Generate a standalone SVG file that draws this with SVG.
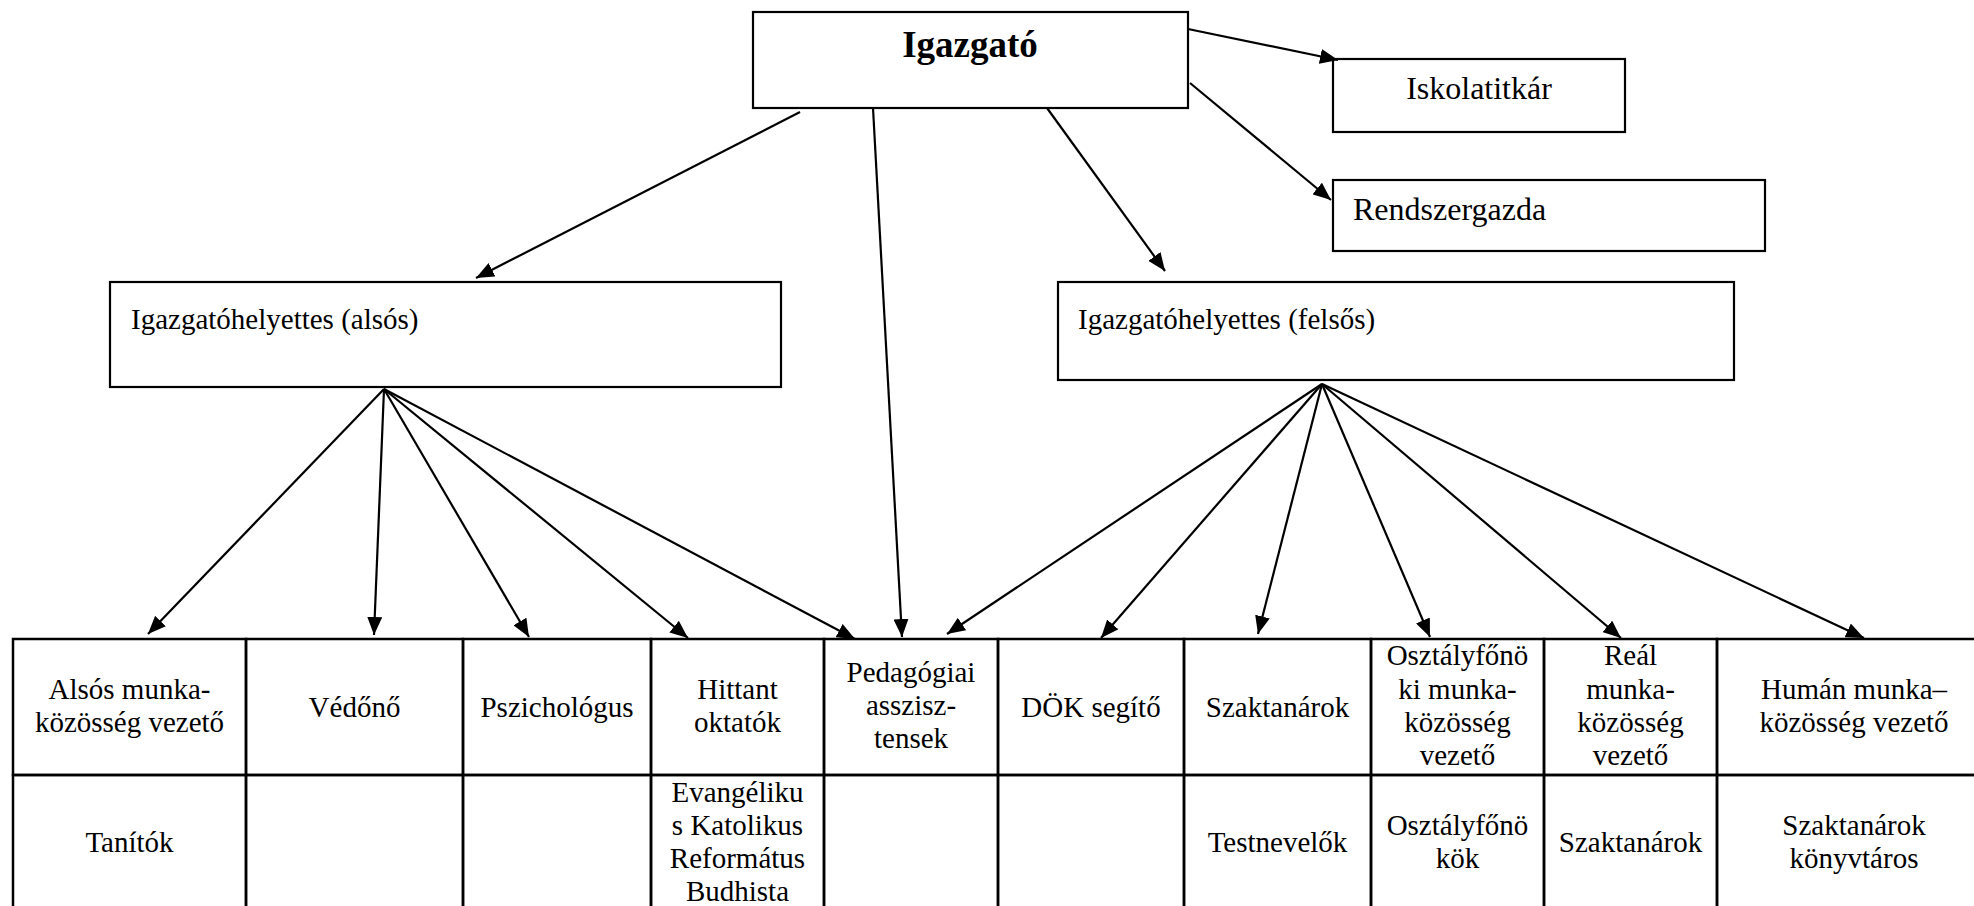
<svg xmlns="http://www.w3.org/2000/svg" width="1974" height="906" viewBox="0 0 1974 906">
<defs>
<marker id="ah" markerUnits="userSpaceOnUse" markerWidth="18" markerHeight="15" refX="18" refY="7.5" orient="auto"><path d="M0,0 L18,7.5 L0,15 Z" fill="#000"/></marker>
</defs>
<style>
.box{fill:#fff;stroke:#000;stroke-width:2.2}
.cell{fill:none;stroke:#000;stroke-width:2.5}
.t{font-family:"Liberation Serif","Times New Roman",serif;fill:#000;font-size:29px}
.c{text-anchor:middle}
.b{font-weight:bold;font-size:37px}
.big{font-size:32px}
#connectors line{stroke:#000;stroke-width:2.2;marker-end:url(#ah)}
</style>
<rect x="0" y="0" width="1974" height="906" fill="#fff"/>

<g id="igazgato"><rect class="box" x="753" y="12" width="435" height="96"/><text class="t c b" x="970" y="57">Igazgató</text></g>
<g id="iskolatitkar"><rect class="box" x="1333" y="59" width="292" height="73"/><text class="t c big" x="1479" y="99">Iskolatitkár</text></g>
<g id="rendszergazda"><rect class="box" x="1333" y="180" width="432" height="71"/><text class="t big" x="1353" y="220">Rendszergazda</text></g>
<g id="igh-alsos"><rect class="box" x="110" y="282" width="671" height="105"/><text class="t" x="131" y="329">Igazgatóhelyettes (alsós)</text></g>
<g id="igh-felsos"><rect class="box" x="1058" y="282" width="676" height="98"/><text class="t" x="1078" y="329">Igazgatóhelyettes (felsős)</text></g>

<g id="col-alsos-mk">
<rect class="cell" x="13" y="639" width="233" height="136"/><rect class="cell" x="13" y="775" width="233" height="136"/>
<text class="t c" x="129.5" y="699">Alsós munka-</text><text class="t c" x="129.5" y="732">közösség vezető</text>
<text class="t c" x="129.5" y="852">Tanítók</text></g>
<g id="col-vedono">
<rect class="cell" x="246" y="639" width="217" height="136"/><rect class="cell" x="246" y="775" width="217" height="136"/>
<text class="t c" x="354.5" y="717">Védőnő</text></g>
<g id="col-pszichologus">
<rect class="cell" x="463" y="639" width="188" height="136"/><rect class="cell" x="463" y="775" width="188" height="136"/>
<text class="t c" x="557" y="717">Pszichológus</text></g>
<g id="col-hittant">
<rect class="cell" x="651" y="639" width="173" height="136"/><rect class="cell" x="651" y="775" width="173" height="136"/>
<text class="t c" x="737.5" y="699">Hittant</text><text class="t c" x="737.5" y="732">oktatók</text>
<text class="t c" x="737.5" y="802">Evangéliku</text><text class="t c" x="737.5" y="835">s Katolikus</text><text class="t c" x="737.5" y="868">Református</text><text class="t c" x="737.5" y="901">Budhista</text></g>
<g id="col-pedagogiai">
<rect class="cell" x="824" y="639" width="174" height="136"/><rect class="cell" x="824" y="775" width="174" height="136"/>
<text class="t c" x="911" y="682">Pedagógiai</text><text class="t c" x="911" y="715">asszisz-</text><text class="t c" x="911" y="748">tensek</text></g>
<g id="col-dok">
<rect class="cell" x="998" y="639" width="186" height="136"/><rect class="cell" x="998" y="775" width="186" height="136"/>
<text class="t c" x="1091" y="717">DÖK segítő</text></g>
<g id="col-szaktanarok">
<rect class="cell" x="1184" y="639" width="187" height="136"/><rect class="cell" x="1184" y="775" width="187" height="136"/>
<text class="t c" x="1277.5" y="717">Szaktanárok</text>
<text class="t c" x="1277.5" y="852">Testnevelők</text></g>
<g id="col-osztalyfonoki">
<rect class="cell" x="1371" y="639" width="173" height="136"/><rect class="cell" x="1371" y="775" width="173" height="136"/>
<text class="t c" x="1457.5" y="665">Osztályfőnö</text><text class="t c" x="1457.5" y="699">ki munka-</text><text class="t c" x="1457.5" y="732">közösség</text><text class="t c" x="1457.5" y="765">vezető</text>
<text class="t c" x="1457.5" y="835">Osztályfőnö</text><text class="t c" x="1457.5" y="868">kök</text></g>
<g id="col-real">
<rect class="cell" x="1544" y="639" width="173" height="136"/><rect class="cell" x="1544" y="775" width="173" height="136"/>
<text class="t c" x="1630.5" y="665">Reál</text><text class="t c" x="1630.5" y="699">munka-</text><text class="t c" x="1630.5" y="732">közösség</text><text class="t c" x="1630.5" y="765">vezető</text>
<text class="t c" x="1630.5" y="852">Szaktanárok</text></g>
<g id="col-human">
<rect class="cell" x="1717" y="639" width="274" height="136"/><rect class="cell" x="1717" y="775" width="274" height="136"/>
<text class="t c" x="1854" y="699">Humán munka–</text><text class="t c" x="1854" y="732">közösség vezető</text>
<text class="t c" x="1854" y="835">Szaktanárok</text><text class="t c" x="1854" y="868">könyvtáros</text></g>

<g id="connectors">
<line x1="1188" y1="29" x2="1338" y2="60"/>
<line x1="1190" y1="83" x2="1331" y2="200"/>
<line x1="1047" y1="108" x2="1165" y2="271"/>
<line x1="873" y1="108" x2="902" y2="637"/>
<line x1="800" y1="112" x2="476" y2="278"/>
<line x1="384" y1="389" x2="148" y2="634"/>
<line x1="384" y1="389" x2="374" y2="635"/>
<line x1="384" y1="389" x2="529" y2="637"/>
<line x1="384" y1="389" x2="688" y2="638"/>
<line x1="384" y1="389" x2="855" y2="639"/>
<line x1="1322" y1="384" x2="947" y2="634"/>
<line x1="1322" y1="384" x2="1101" y2="638"/>
<line x1="1322" y1="384" x2="1258" y2="634"/>
<line x1="1322" y1="384" x2="1430" y2="637"/>
<line x1="1322" y1="384" x2="1621" y2="638"/>
<line x1="1322" y1="384" x2="1864" y2="638"/>
</g>
</svg>
